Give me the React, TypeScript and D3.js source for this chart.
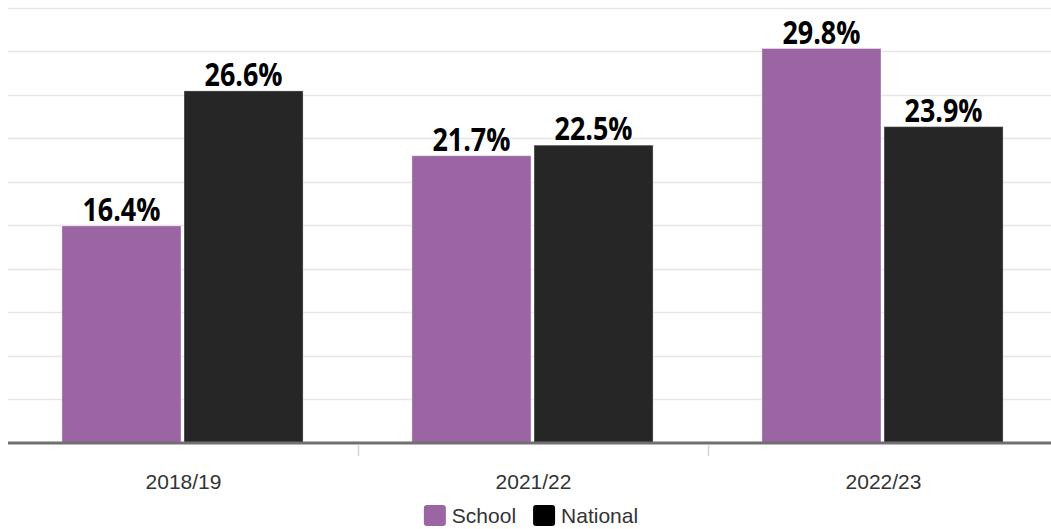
import React, { useEffect, useRef } from "react";
import * as d3 from "d3";

const categories = ["2018/19", "2021/22", "2022/23"];
const seriesNames = ["School", "National"];
const schoolValues = [16.4, 21.7, 29.8];
const nationalValues = [26.6, 22.5, 23.9];
const seriesColors = ["#9b64a3", "#262626"];
const legendColors = ["#9b64a3", "#000000"];
const yMax = 32.9;
const gridCount = 10;

const W = 1051;
const H = 529;

export default function App() {
  const ref = useRef<SVGSVGElement | null>(null);

  useEffect(() => {
    const svg = d3.select(ref.current);
    svg.selectAll("*").remove();

    const plotLeft = 7.5;
    const plotRight = 1057.5;
    const baseY = 443;
    const topY = 7.5;

    const x0 = d3.scaleBand<string>().domain(categories).range([plotLeft, plotRight]).paddingInner(0.311).paddingOuter(0.1555);
    const x1 = d3.scaleBand<string>().domain(seriesNames).range([0, x0.bandwidth()]).paddingInner(0.025);
    const y = d3.scaleLinear().domain([0, yMax]).range([baseY, topY]);

    const gridVals = d3.range(1, gridCount + 1).map((i) => (i * yMax) / gridCount);
    svg.append("g")
      .selectAll("line")
      .data(gridVals)
      .join("line")
      .attr("x1", 8)
      .attr("x2", W)
      .attr("y1", (d) => Math.round(y(d)) + 0.5)
      .attr("y2", (d) => Math.round(y(d)) + 0.5)
      .attr("stroke", "#e6e6e6")
      .attr("stroke-width", 1.5);

    const data = categories.map((c, i) => ({
      cat: c,
      vals: [
        { s: seriesNames[0], v: schoolValues[i], color: seriesColors[0] },
        { s: seriesNames[1], v: nationalValues[i], color: seriesColors[1] },
      ],
    }));

    const groups = svg.append("g").selectAll("g").data(data).join("g")
      .attr("transform", (d) => `translate(${x0(d.cat)},0)`);

    groups.selectAll("rect")
      .data((d) => d.vals)
      .join("rect")
      .attr("x", (d) => x1(d.s)!)
      .attr("width", x1.bandwidth())
      .attr("y", (d) => y(d.v))
      .attr("height", (d) => baseY - y(d.v))
      .attr("fill", (d) => d.color)
      .attr("stroke", "#ffffff")
      .attr("stroke-opacity", 0.35)
      .attr("stroke-width", 1);

    const labels = groups.selectAll("text")
      .data((d) => d.vals)
      .join("text")
      .attr("text-anchor", "middle")
      .attr("font-family", "'Open Sans', 'DejaVu Sans Condensed', sans-serif")
      .attr("font-weight", "bold")
      .attr("font-size", 32)
      .attr("fill", "#000")
      .text((d) => `${d.v.toFixed(1)}%`);

    // condense the label font horizontally to match the narrow face
    const firstLen = (labels.node() as SVGTextElement).getComputedTextLength();
    const sx = 78 / firstLen;
    labels.attr("transform", (d) => {
      const cx = x1(d.s)! + x1.bandwidth() / 2;
      return `translate(${cx},${y(d.v) - 5}) scale(${sx},1)`;
    });

    // baseline
    svg.append("line")
      .attr("x1", 8).attr("x2", W)
      .attr("y1", baseY).attr("y2", baseY)
      .attr("stroke", "#707070").attr("stroke-width", 3);

    // ticks at category boundaries
    const step = x0.step();
    const bounds = categories.slice(1).map((c) => x0(c)! - (step - x0.bandwidth()) / 2);
    svg.append("g").selectAll("line").data(bounds).join("line")
      .attr("x1", (d) => Math.round(d) + 0.5).attr("x2", (d) => Math.round(d) + 0.5)
      .attr("y1", baseY + 2).attr("y2", baseY + 13)
      .attr("stroke", "#ccd6eb").attr("stroke-width", 1.5);

    // category labels
    svg.append("g").selectAll("text").data(categories).join("text")
      .attr("x", (d) => x0(d)! + x0.bandwidth() / 2 + 1)
      .attr("y", 489)
      .attr("text-anchor", "middle")
      .attr("font-family", "'Liberation Sans', Arial, sans-serif")
      .attr("font-size", 21)
      .attr("fill", "#333333")
      .text((d) => d);

    // legend
    const legend = svg.append("g");
    let cx = 0;
    seriesNames.forEach((name, i) => {
      const g = legend.append("g").attr("transform", `translate(${cx},0)`);
      g.append("rect").attr("x", 0).attr("y", 505).attr("width", 22).attr("height", 21).attr("rx", 3).attr("fill", legendColors[i]);
      const t = g.append("text").attr("x", 28).attr("y", 523)
        .attr("font-family", "'Liberation Sans', Arial, sans-serif")
        .attr("font-size", 21).attr("fill", "#333333").text(name);
      const tw = (t.node() as SVGTextElement).getComputedTextLength();
      cx += 28 + tw + 17;
    });
    const totalW = cx - 17;
    legend.attr("transform", `translate(${421 + (220 - totalW) / 2},0)`);
  }, []);

  return (
    <svg
      ref={ref}
      width={W}
      height={H}
      style={{ position: "absolute", left: 0, top: 0, background: "#fff" }}
    />
  );
}
